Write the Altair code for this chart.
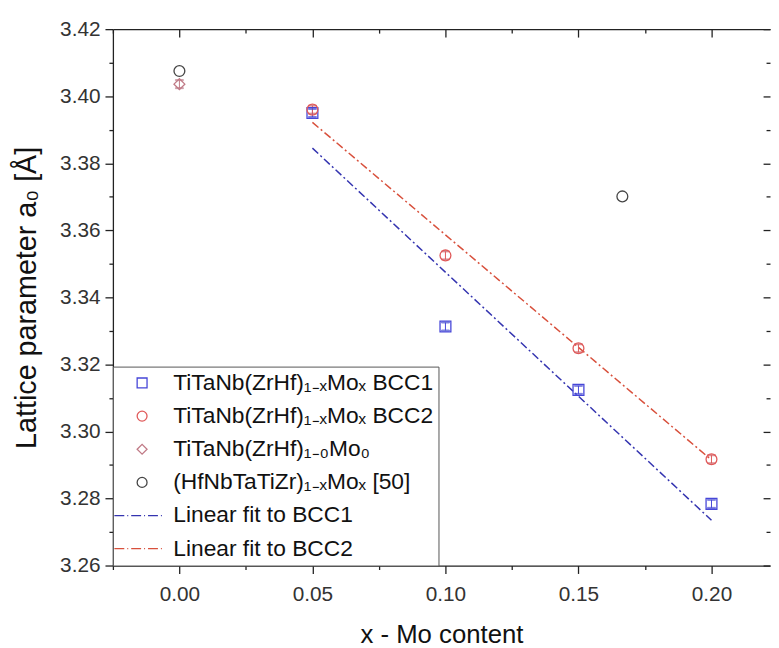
import altair as alt
import pandas as pd

# ---- data ----
labels = [
    "TiTaNb(ZrHf)₁₋ₓMoₓ BCC1",
    "TiTaNb(ZrHf)₁₋ₓMoₓ BCC2",
    "TiTaNb(ZrHf)₁₋₀Mo₀",
    "(HfNbTaTiZr)₁₋ₓMoₓ [50]",
    "Linear fit to BCC1",
    "Linear fit to BCC2",
]
bcc1_x = [0.05, 0.10, 0.15, 0.20]
bcc1_y = [3.3950, 3.3313, 3.3124, 3.2784]
bcc2_x = [0.05, 0.10, 0.15, 0.20]
bcc2_y = [3.3960, 3.3525, 3.3248, 3.2917]
mo0_x = [0.0]
mo0_y = [3.4036]
ref50_x = [0.0, 0.1665]
ref50_y = [3.4075, 3.3701]
err_bcc1 = [0.0012, 0.0012, 0.0012, 0.0012]
err_bcc2 = [0.0012, 0.0012, 0.0012, 0.0012]
err_mo0 = [0.0012]
err_ref50 = [0.0, 0.0]
fit1_x = [0.05, 0.20]
fit1_y = [3.3845, 3.2735]
fit2_x = [0.05, 0.20]
fit2_y = [3.3922, 3.2915]

x_major = [0.00, 0.05, 0.10, 0.15, 0.20]
x_minor = [-0.025, 0.025, 0.075, 0.125, 0.175]
y_major = [3.26, 3.28, 3.30, 3.32, 3.34, 3.36, 3.38, 3.40, 3.42]
y_minor = [3.27, 3.29, 3.31, 3.33, 3.35, 3.37, 3.39, 3.41]

colors = ["#4646d8", "#e05a5a", "#c07a86", "#454545", "#3434b0", "#d8503c"]
dashdot = "M-5.6,0H-3.6M-3,0H-2.8M-2.2,0H-0.2M0.4,0H0.6M1.2,0H3.2M3.8,0H4"
shapes = ["square", "circle", "diamond", "circle", dashdot, dashdot]

rows = []
for xs, ys, es, lab in [(bcc1_x, bcc1_y, err_bcc1, labels[0]),
                        (bcc2_x, bcc2_y, err_bcc2, labels[1]),
                        (mo0_x, mo0_y, err_mo0, labels[2]),
                        (ref50_x, ref50_y, err_ref50, labels[3])]:
    for xv, yv, ev in zip(xs, ys, es):
        rows.append({"x": xv, "y": yv, "lo": yv - ev, "hi": yv + ev, "s": lab})
pts = pd.DataFrame(rows)
errs = pts[pts["hi"] > pts["lo"]]

frows = []
for xs, ys, lab in [(fit1_x, fit1_y, labels[4]), (fit2_x, fit2_y, labels[5])]:
    for xv, yv in zip(xs, ys):
        frows.append({"x": xv, "y": yv, "s": lab})
fits = pd.DataFrame(frows)

XS = alt.Scale(domain=[-0.025, 0.222], nice=False, zero=False)
YS = alt.Scale(domain=[3.26, 3.42], nice=False, zero=False)

AX_COL = "#222"
LAB_COL = "#333"


def ax(orient, values=None, tick=0, offset=0, domain=False, labels_on=False, **kw):
    d = dict(orient=orient, grid=False, domain=domain, labels=labels_on,
             ticks=tick > 0, domainColor=AX_COL, tickColor=AX_COL,
             domainWidth=1.3, tickWidth=1.3)
    if tick > 0:
        d["tickSize"] = tick
    if values is not None:
        d["values"] = values
    if offset:
        d["offset"] = offset
    d.update(kw)
    return alt.Axis(**d)


leg = alt.Legend(
    title=None, orient="bottom-left", offset=0, padding=5,
    strokeColor="#555", fillColor="white",
    labelFontSize=23, labelColor="#111", labelLimit=500,
    symbolSize=100, symbolStrokeWidth=1.3, symbolOffset=13, labelOffset=20,
    rowPadding=9.5, symbolFillColor="transparent",
)
color_enc = alt.Color("s:N", scale=alt.Scale(domain=labels, range=colors), legend=leg)
shape_enc = alt.Shape("s:N", scale=alt.Scale(domain=labels, range=shapes), legend=leg)
# stroke scale: same mapping, listed in reverse so its (hidden) legend is not merged with the main one
stroke_nl = alt.Stroke("s:N", scale=alt.Scale(domain=labels[::-1], range=colors[::-1]), legend=None)

points = alt.Chart(pts).mark_point(filled=False, size=120, strokeWidth=1.3, opacity=1).encode(
    x=alt.X("x:Q", scale=XS, title="x - Mo content",
            axis=ax("bottom", x_major, tick=8, domain=True, labels_on=True, format=".2f",
                    labelFontSize=21, labelColor=LAB_COL, labelPadding=10,
                    titleFontSize=26, titleFontWeight="normal", titleColor="#111",
                    titlePadding=18)),
    y=alt.Y("y:Q", scale=YS, title="Lattice parameter a₀ [Å]",
            axis=ax("left", y_major, tick=8, domain=True, labels_on=True, format=".2f",
                    labelFontSize=21, labelColor=LAB_COL, labelPadding=5,
                    titleFontSize=29, titleFontWeight="normal", titleColor="#111",
                    titlePadding=18)),
    color=color_enc,
    shape=shape_enc,
)

rules = alt.Chart(errs).mark_rule(strokeWidth=1).encode(
    x=alt.X("x:Q", scale=XS, title=None, axis=ax("bottom", x_minor, tick=4)),
    y=alt.Y("lo:Q", scale=YS, title=None, axis=ax("left", y_minor, tick=4)),
    y2="hi:Q",
    stroke=stroke_nl,
)

caps_lo = alt.Chart(errs).mark_tick(orient="horizontal", size=8, thickness=1).encode(
    x=alt.X("x:Q", scale=XS, title=None, axis=ax("top", domain=True)),
    y=alt.Y("lo:Q", scale=YS, title=None, axis=ax("right", y_major, tick=7, offset=-7)),
    stroke=stroke_nl,
)

caps_hi = alt.Chart(errs).mark_tick(orient="horizontal", size=8, thickness=1).encode(
    x=alt.X("x:Q", scale=XS, title=None, axis=ax("top", x_major, tick=8, offset=-8)),
    y=alt.Y("hi:Q", scale=YS, title=None, axis=ax("right", y_minor, tick=4, offset=-4)),
    stroke=stroke_nl,
)

lines = alt.Chart(fits).mark_line(strokeWidth=1.5, strokeDash=[8, 3, 2, 3]).encode(
    x=alt.X("x:Q", scale=XS, title=None, axis=ax("top", x_minor, tick=4, offset=-4)),
    y=alt.Y("y:Q", scale=YS, axis=None),
    stroke=stroke_nl,
    detail="s:N",
)

chart = alt.layer(lines, rules, caps_lo, caps_hi, points).resolve_axis(
    x="independent", y="independent"
).properties(
    width=664, height=542,
    padding={"left": 5, "top": 7, "right": 0, "bottom": 0},
).configure(
    font="Liberation Sans",
).configure_view(stroke=None)

chart.save("out.html", embed_options={"renderer": "svg", "actions": False})
